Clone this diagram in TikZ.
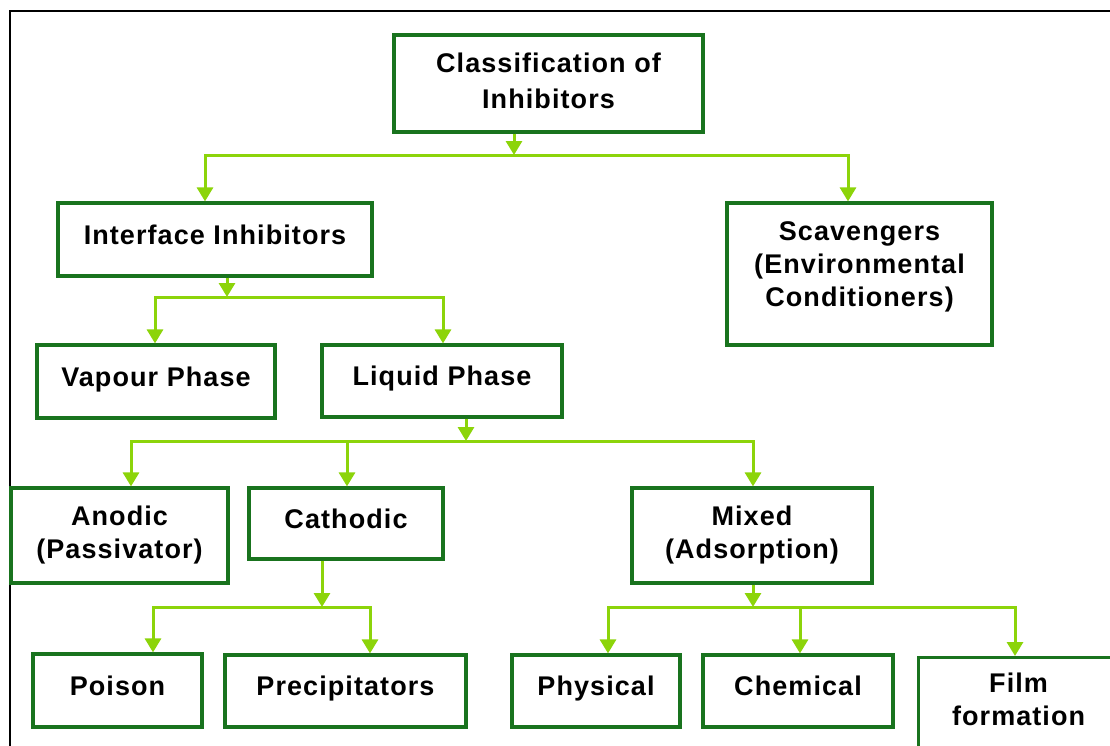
\documentclass[tikz,border=0pt]{standalone}
\usepackage{fontspec}
\setmainfont{Liberation Sans}[LetterSpace=4]
\usetikzlibrary{arrows.meta,calc}
\definecolor{boxgreen}{RGB}{25,115,30}
\definecolor{arrgreen}{RGB}{140,212,10}
\begin{document}
\begin{tikzpicture}[x=1pt,y=-1pt,
  box/.style={draw=boxgreen, line width=3.2pt, inner sep=0pt, align=center,
              font=\fontsize{27}{33}\selectfont\bfseries, text=black},
  one/.style={text height=19.5pt, text depth=10pt},
  conn/.style={draw=arrgreen, line width=3pt},
  tip/.style={-{Triangle[width=16pt,length=14pt]}},
  tips/.style={{Triangle[width=16pt,length=14pt]}-{Triangle[width=16pt,length=14pt]}}]
\useasboundingbox (0,0) rectangle (1110,745);
\clip (0,0) rectangle (1110,745);
\draw[line width=2pt] (10,760) -- (10,11) -- (1120,11);

% boxes
\node[box, minimum width=309pt, minimum height=97pt, font=\fontsize{27}{36}\selectfont\bfseries] (cls) at (548.5,83.5) {Classification of\\Inhibitors\\[-30pt]\mbox{}};
\node[box, one, minimum width=314pt, minimum height=73pt] (ii) at (215,239.5) {Interface Inhibitors};
\node[box, minimum width=265pt, minimum height=142pt] (sc) at (859.5,274) {Scavengers\\(Environmental\\Conditioners)\\[-14pt]\mbox{}};
\node[box, one, minimum width=238pt, minimum height=73pt] (vp) at (156,381.5) {Vapour Phase};
\node[box, one, minimum width=240pt, minimum height=72pt] (lp) at (442,381) {Liquid Phase};
\node[box, minimum width=217pt, minimum height=95pt] (an) at (119.5,535.5) {Anodic\\(Passivator)};
\node[box, one, minimum width=194pt, minimum height=71pt] (ca) at (346,523.5) {Cathodic};
\node[box, minimum width=240pt, minimum height=95pt] (mx) at (752,535.5) {Mixed\\(Adsorption)};
\node[box, one, minimum width=169pt, minimum height=73pt] (po) at (117.5,690.5) {Poison};
\node[box, one, minimum width=241pt, minimum height=72pt] (pr) at (345.5,691) {Precipitators};
\node[box, one, minimum width=168pt, minimum height=72pt] (ph) at (596,691) {Physical};
\node[box, one, minimum width=190pt, minimum height=72pt] (ch) at (798,691) {Chemical};
\node[box, minimum width=200pt, minimum height=100pt, anchor=north west] (fi) at (917,656) {Film\\formation\\[-16pt]\mbox{}};

% junction coordinates
\coordinate (b1m) at (514,155); \coordinate (b1l) at (205,155); \coordinate (b1r) at (848,155);
\coordinate (b2m) at (227,297); \coordinate (b2l) at (155,297); \coordinate (b2r) at (443,297);
\coordinate (b3m) at (466,441); \coordinate (b3l) at (131,441); \coordinate (b3c) at (347,441); \coordinate (b3r) at (753,441);
\coordinate (b4m) at (322,607); \coordinate (b4l) at (153,607); \coordinate (b4r) at (370,607);
\coordinate (b5m) at (753,607); \coordinate (b5l) at (608,607); \coordinate (b5c) at (800,607); \coordinate (b5r) at (1015,607);

% connectors
\draw[conn,tip] (cls.south -| b1m) -- (b1m);
\draw[conn,tips] (ii.north -| b1l) -- (b1l) -- (b1r) -- (sc.north -| b1r);

\draw[conn,tip] (ii.south -| b2m) -- (b2m);
\draw[conn,tips] (vp.north -| b2l) -- (b2l) -- (b2r) -- (lp.north -| b2r);

\draw[conn,tip] (lp.south -| b3m) -- (b3m);
\draw[conn,tips] (an.north -| b3l) -- (b3l) -- (b3r) -- (mx.north -| b3r);
\draw[conn,tip] (b3c) -- (ca.north -| b3c);

\draw[conn,tip] (ca.south -| b4m) -- (b4m);
\draw[conn,tips] (po.north -| b4l) -- (b4l) -- (b4r) -- (pr.north -| b4r);

\draw[conn,tip] (mx.south -| b5m) -- (b5m);
\draw[conn,tips] (ph.north -| b5l) -- (b5l) -- (b5r) -- (fi.north -| b5r);
\draw[conn,tip] (b5c) -- (ch.north -| b5c);
\end{tikzpicture}
\end{document}
